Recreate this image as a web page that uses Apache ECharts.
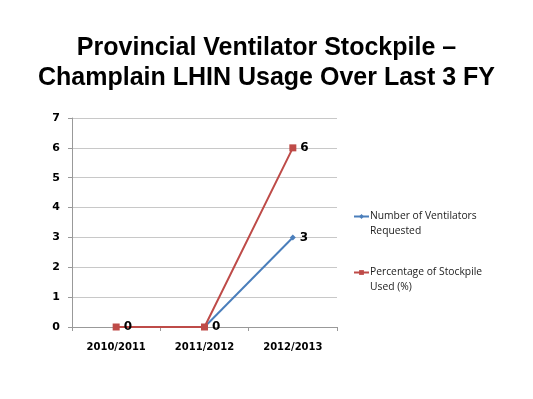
<!DOCTYPE html>
<html>
<head>
<meta charset="utf-8">
<script src="https://cdn.jsdelivr.net/npm/echarts@6/dist/echarts.min.js"></script>
<style>
  html, body { margin: 0; padding: 0; background: #fff; }
  #chart { width: 533px; height: 399px; }
</style>
</head>
<body>
<div id="chart"></div>
<script>
const years = ["2010/2011", "2011/2012", "2012/2013"];
const ventilators = [null, 0, 3];
const stockpilePct = [0, 0, 6];
const yTicks = [0, 1, 2, 3, 4, 5, 6, 7];

const chart = echarts.init(document.getElementById("chart"));

const labelStyle = {
    show: true,
    position: "right",
    distance: 4,
    color: "#000",
    fontFamily: "DejaVu Sans",
    fontWeight: "bold",
    fontSize: 12
};

chart.setOption({
    animation: false,
    title: {
        text: "Provincial Ventilator Stockpile –\nChamplain LHIN Usage Over Last 3 FY",
        left: "center",
        top: 28,
        textStyle: {
            fontFamily: "Liberation Sans",
            fontWeight: "bold",
            fontSize: 25,
            lineHeight: 30,
            color: "#000"
        }
    },
    legend: {
        orient: "vertical",
        left: 348,
        top: 189,
        itemGap: 11,
        itemWidth: 15,
        itemHeight: 6,
        formatter: name => "\n" + name,
        textStyle: {
            fontFamily: "Open Sans",
            fontSize: 10.3,
            lineHeight: 15,
            padding: [0, 0, 0, -4],
            color: "#222"
        },
        data: ["Number of Ventilators\nRequested", "Percentage of Stockpile\nUsed (%)"]
    },
    grid: { left: 72, right: 196, top: 118, bottom: 72 },
    xAxis: {
        type: "category",
        data: years,
        boundaryGap: true,
        axisLine: { lineStyle: { color: "#999" } },
        axisTick: { show: true, length: 4, lineStyle: { color: "#999" } },
        axisLabel: {
            margin: 15,
            color: "#000",
            fontFamily: "DejaVu Sans",
            fontWeight: "bold",
            fontSize: 10
        }
    },
    yAxis: {
        type: "value",
        min: yTicks[0],
        max: yTicks[yTicks.length - 1],
        interval: 1,
        axisLine: { show: true, lineStyle: { color: "#999" } },
        axisTick: { show: true, length: 4, lineStyle: { color: "#999" } },
        splitLine: { lineStyle: { color: "#c8c8c8" } },
        axisLabel: {
            margin: 12,
            color: "#000",
            fontFamily: "DejaVu Sans",
            fontWeight: "bold",
            fontSize: 11
        }
    },
    series: [
        {
            name: "Number of Ventilators\nRequested",
            type: "line",
            data: ventilators,
            color: "#4a7ebb",
            symbol: "diamond",
            symbolSize: 6,
            lineStyle: { width: 2 },
            label: labelStyle,
            labelLayout: { hideOverlap: true }
        },
        {
            name: "Percentage of Stockpile\nUsed (%)",
            type: "line",
            data: stockpilePct,
            color: "#be4b48",
            symbol: "rect",
            symbolSize: 7,
            lineStyle: { width: 2 },
            label: labelStyle,
            labelLayout: { hideOverlap: true }
        }
    ]
});
</script>
</body>
</html>
